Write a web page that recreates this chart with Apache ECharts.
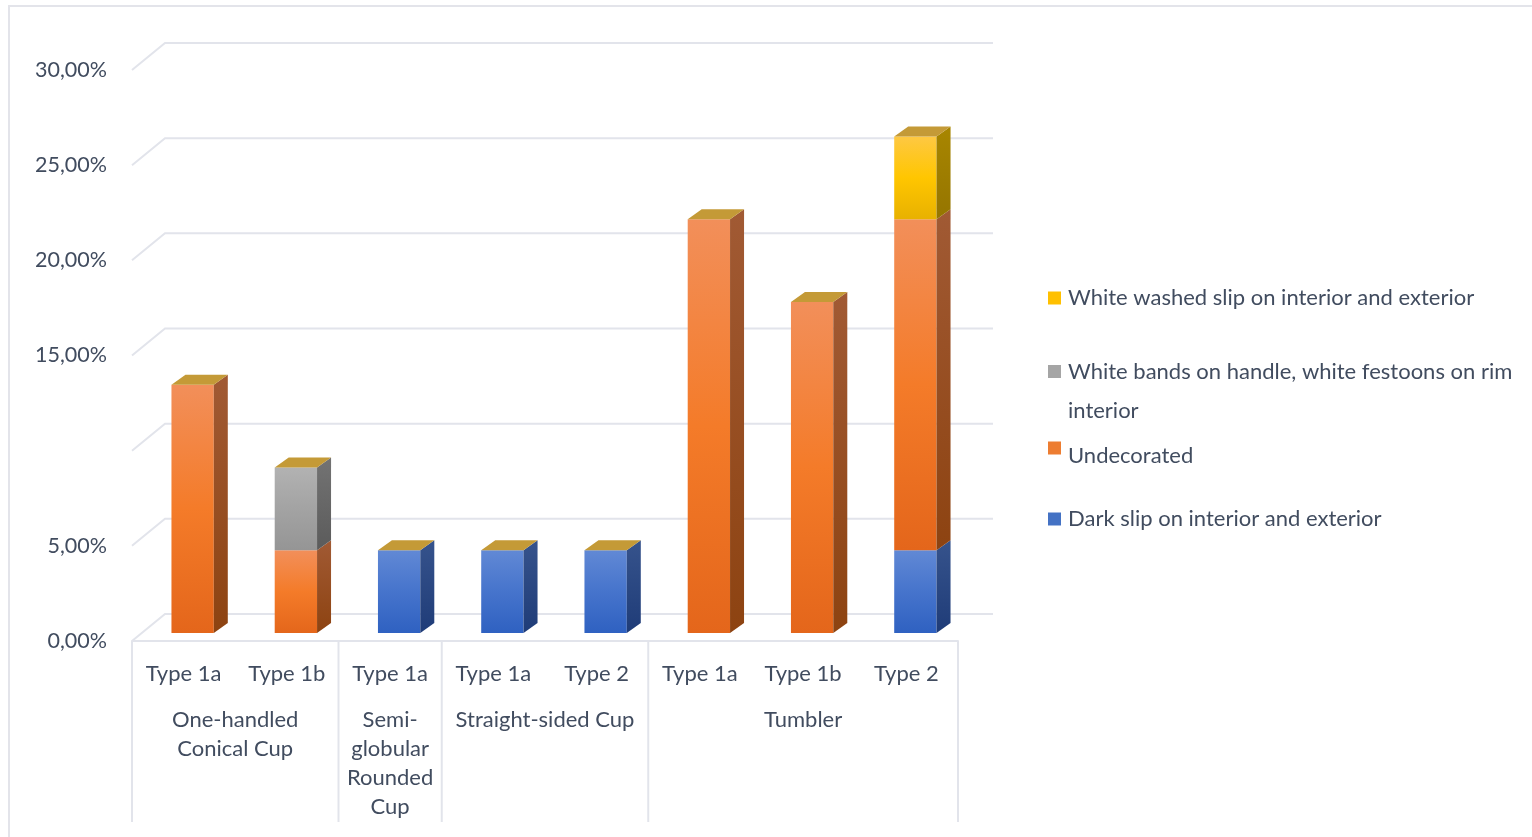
<!DOCTYPE html>
<html>
<head>
<meta charset="utf-8">
<script src="https://cdn.jsdelivr.net/npm/echarts@6/dist/echarts.min.js"></script>
<style>
html,body{margin:0;padding:0;background:#fff;}
#chart{width:1532px;height:837px;}
</style>
</head>
<body>
<div id="chart"></div>
<script>
// ---------- data ----------
const subTypes = ['Type 1a', 'Type 1b', 'Type 1a', 'Type 1a', 'Type 2', 'Type 1a', 'Type 1b', 'Type 2'];
const groupNames = ['One-handled\nConical Cup', 'Semi-\nglobular\nRounded\nCup', 'Straight-sided Cup', 'Tumbler'];
const groupStart = [0, 2, 3, 5];
const groupEnd = [1, 2, 4, 7];

const seriesNames = [
  'Dark slip on interior and exterior',
  'Undecorated',
  'White bands on handle, white festoons on rim interior',
  'White washed slip on interior and exterior'
];
const darkSlip    = [0, 0, 4.35, 4.35, 4.35, 0, 0, 4.35];
const undecorated = [13.04, 4.35, 0, 0, 0, 21.74, 17.39, 17.39];
const whiteBands  = [0, 4.35, 0, 0, 0, 0, 0, 0];
const whiteWashed = [0, 0, 0, 0, 0, 0, 0, 4.35];

const yTickValues = [0, 5, 10, 15, 20, 25, 30];
const yTickLabels = ['0,00%', '5,00%', '', '15,00%', '20,00%', '25,00%', '30,00%'];

// ---------- styling ----------
const FONT = 'Lato';
const FS = 22;
const TXT = '#414c5f';
const GRIDC = '#e2e4eb';
const BAR_DX = 9, BAR_DY = -8;      // bar plane offset from front plane
const DEPTH_X = 14, DEPTH_Y = -10;  // bar depth
const BACK_DX = 33, BACK_DY = 27;   // back wall offset

const palette = [
  { legend: '#4472c4', front: ['#6189d5', '#4674cc', '#2f61c1'], side: ['#36538c', '#1f3c78'] },
  { legend: '#ed7d31', front: ['#f28f5a', '#f47b29', '#e4661b'], side: ['#a15a34', '#8d4311'] },
  { legend: '#a5a5a5', front: ['#b2b2b2', '#a3a3a3', '#959595'], side: ['#737373', '#5b5b5b'] },
  { legend: '#ffc000', front: ['#fec843', '#ffc600', '#e8b100'], side: ['#a88600', '#957500'] }
];
const TOP_FACE = '#c49a37';

function grad(stops) {
  return {
    type: 'linear', x: 0, y: 0, x2: 0, y2: 1,
    colorStops: stops.map((c, k) => ({ offset: k / (stops.length - 1), color: c }))
  };
}

const valueArrays = [darkSlip, undecorated, whiteBands, whiteWashed];
const totals = subTypes.map((_, i) => valueArrays.reduce((s, a) => s + a[i], 0));

function barGeom(api, i, b, t) {
  const band = api.size([1, 0])[0];
  const w = band * 0.41;
  const cx = api.coord([i, 0])[0] + BAR_DX;
  const yb = api.coord([i, b])[1] + BAR_DY;
  const yt = api.coord([i, t])[1] + BAR_DY;
  return { w, cx, yb, yt };
}

const barSeries = [];
const base = subTypes.map(() => 0);
valueArrays.forEach((arr, s) => {
  const data = [];
  arr.forEach((v, i) => {
    if (v > 0) data.push([i, base[i], base[i] + v]);
    base[i] += v;
  });
  const pal = palette[s];
  barSeries.push({
    name: seriesNames[s],
    type: 'custom',
    xAxisIndex: 0, yAxisIndex: 0,
    itemStyle: { color: pal.legend },
    encode: { x: 0, y: [1, 2] },
    data: data,
    z: 3,
    renderItem: function (params, api) {
      const g = barGeom(api, api.value(0), api.value(1), api.value(2));
      const xl = g.cx - g.w / 2, xr = g.cx + g.w / 2;
      return {
        type: 'group',
        children: [
          { type: 'rect', shape: { x: xl, y: g.yt, width: g.w, height: g.yb - g.yt },
            style: { fill: grad(pal.front) } },
          { type: 'polygon', shape: { points: [[xr, g.yt], [xr + DEPTH_X, g.yt + DEPTH_Y], [xr + DEPTH_X, g.yb + DEPTH_Y], [xr, g.yb]] },
            style: { fill: grad(pal.side) } }
        ]
      };
    }
  });
});

// top faces
barSeries.push({
  name: 'top',
  type: 'custom',
  xAxisIndex: 0, yAxisIndex: 0,
  encode: { x: 0, y: 1 },
  data: totals.map((t, i) => [i, t]),
  z: 4,
  silent: true,
  renderItem: function (params, api) {
    const g = barGeom(api, api.value(0), 0, api.value(1));
    const xl = g.cx - g.w / 2, xr = g.cx + g.w / 2;
    return {
      type: 'polygon',
      shape: { points: [[xl, g.yt], [xl + DEPTH_X, g.yt + DEPTH_Y], [xr + DEPTH_X, g.yt + DEPTH_Y], [xr, g.yt]] },
      style: { fill: TOP_FACE }
    };
  }
});

// back wall gridlines + left diagonals
const gridSeries = {
  name: 'gridlines',
  type: 'custom',
  xAxisIndex: 1, yAxisIndex: 1,
  encode: { x: 0, y: 1 },
  data: yTickValues.map(v => [0, v]),
  z: 1,
  silent: true,
  renderItem: function (params, api) {
    const L = api.coord([0, api.value(1)]);
    const R = api.coord([1, api.value(1)]);
    return {
      type: 'polyline',
      shape: { points: [[L[0] - BACK_DX, L[1] + BACK_DY], [L[0], L[1]], [R[0], R[1]]] },
      style: { stroke: GRIDC, lineWidth: 2, fill: null }
    };
  }
};

// hierarchical category axis: separators + group labels
const groupSeries = {
  name: 'groups',
  type: 'custom',
  xAxisIndex: 0, yAxisIndex: 0,
  encode: { x: [0, 1], y: 2 },
  data: groupNames.map((n, k) => [groupStart[k], groupEnd[k], 0]),
  z: 2,
  silent: true,
  renderItem: function (params, api) {
    const band = api.size([1, 0])[0];
    const s = api.value(0), e = api.value(1);
    const y0 = api.coord([s, 0])[1];
    const x0 = api.coord([s, 0])[0] - band / 2;
    const x1 = api.coord([e, 0])[0] + band / 2;
    const children = [
      { type: 'line', shape: { x1: x0, y1: y0, x2: x0, y2: y0 + 181 }, style: { stroke: GRIDC, lineWidth: 2 } },
      { type: 'text', x: (x0 + x1) / 2, y: y0 + 64,
        style: { text: groupNames[params.dataIndex], fill: TXT, font: FS + 'px ' + FONT, lineHeight: 29,
                 align: 'center', verticalAlign: 'top' } }
    ];
    if (params.dataIndex === groupNames.length - 1) {
      children.push({ type: 'line', shape: { x1: x1, y1: y0, x2: x1, y2: y0 + 181 }, style: { stroke: GRIDC, lineWidth: 2 } });
    }
    return { type: 'group', children };
  }
};

function legendAt(idx, top, extra) {
  return Object.assign({
    orient: 'vertical',
    left: 1048,
    top: top,
    padding: 0,
    icon: 'rect',
    itemWidth: 13,
    itemHeight: 13,
    data: [seriesNames[idx]],
    textStyle: { fontFamily: FONT, fontSize: FS, color: TXT, lineHeight: 20, padding: [0, 0, 0, 2] }
  }, extra || {});
}

const option = {
  animation: false,
  textStyle: { fontFamily: FONT },
  graphic: [{
    type: 'rect', shape: { x: 9, y: 6, width: 1600, height: 900 },
    style: { fill: null, stroke: '#e3e4ea', lineWidth: 2 }, z: 0, silent: true
  }],
  grid: [
    { left: 132, right: 574, top: 70, bottom: 196 },   // front plane
    { left: 165, right: 539, top: 43, bottom: 223 }    // back wall
  ],
  xAxis: [
    {
      type: 'category', gridIndex: 0, data: subTypes,
      axisLine: { lineStyle: { color: GRIDC, width: 2 } },
      axisTick: { show: false },
      axisLabel: { interval: 0, color: TXT, fontSize: FS, fontFamily: FONT, margin: 22 }
    },
    { type: 'value', gridIndex: 1, min: 0, max: 1, show: false }
  ],
  yAxis: [
    {
      type: 'value', gridIndex: 0, min: 0, max: 30, interval: 5,
      axisLine: { show: false }, axisTick: { show: false }, splitLine: { show: false },
      axisLabel: {
        color: TXT, fontSize: 21.5, fontFamily: FONT, margin: 25,
        formatter: v => { const k = yTickValues.indexOf(v); return k >= 0 ? yTickLabels[k] : ''; }
      }
    },
    { type: 'value', gridIndex: 1, min: 0, max: 30, interval: 5, show: false }
  ],
  legend: [
    legendAt(3, 287),
    legendAt(2, 313, {
      textStyle: { fontFamily: FONT, fontSize: FS, color: TXT, lineHeight: 39, padding: [0, 0, 0, 2] },
      formatter: () => '\nWhite bands on handle, white festoons on rim\ninterior'
    }),
    legendAt(1, 429, {
      textStyle: { fontFamily: FONT, fontSize: FS, color: TXT, lineHeight: 20,
                   rich: { u: { fontFamily: FONT, fontSize: FS, color: TXT, lineHeight: 20, padding: [16, 0, 0, 2] } } },
      formatter: n => '{u|' + n + '}'
    }),
    legendAt(0, 508)
  ],
  series: [gridSeries, groupSeries].concat(barSeries)
};

const chart = echarts.init(document.getElementById('chart'), null, { renderer: 'canvas' });
chart.setOption(option);
</script>
</body>
</html>
